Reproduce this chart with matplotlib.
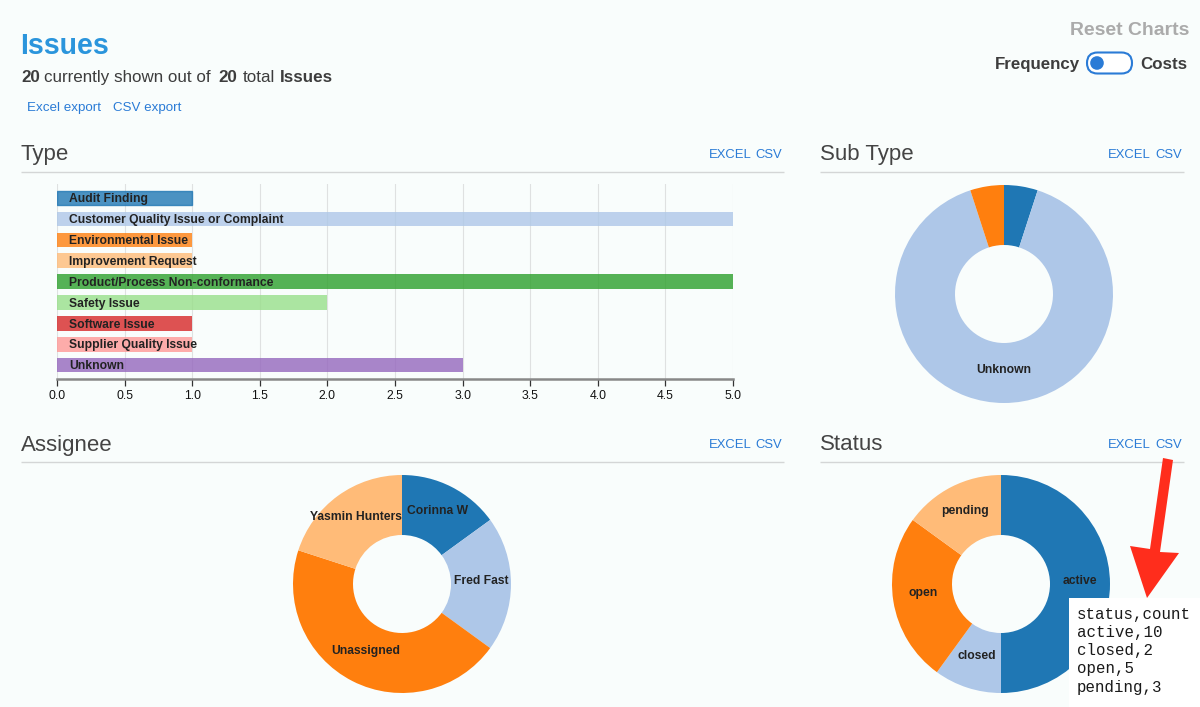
import matplotlib
matplotlib.use("Agg")
import matplotlib.pyplot as plt
from matplotlib.patches import FancyBboxPatch, Circle, Rectangle, Polygon
import numpy as np

W, H = 1200, 707
BG = "#f9fdfc"
PX = 0.72  # px to pt at dpi 100
plt.rcParams['font.family'] = ['Liberation Sans', 'DejaVu Sans']

tab20 = ["#1f77b4", "#aec7e8", "#ff7f0e", "#ffbb78", "#2ca02c", "#98df8a", "#d62728", "#ff9896", "#9467bd"]

type_names = ["Audit Finding", "Customer Quality Issue or Complaint", "Environmental Issue",
              "Improvement Request", "Product/Process Non-conformance", "Safety Issue",
              "Software Issue", "Supplier Quality Issue", "Unknown"]
type_counts = [1, 5, 1, 1, 5, 2, 1, 1, 3]
x_ticks = [0.0, 0.5, 1.0, 1.5, 2.0, 2.5, 3.0, 3.5, 4.0, 4.5, 5.0]

subtype_names = ["", "Unknown", ""]
subtype_counts = [1, 18, 1]

assignee_names = ["Corinna W", "Fred Fast", "Unassigned", "Yasmin Hunters"]
assignee_counts = [3, 4, 9, 4]

status_names = ["active", "closed", "open", "pending"]
status_counts = [10, 2, 5, 3]


def px_axes(fig, x0, y0, x1, y1, z=1):
    ax = fig.add_axes([x0 / W, 1 - y1 / H, (x1 - x0) / W, (y1 - y0) / H], zorder=z)
    return ax


fig = plt.figure(figsize=(W / 100, H / 100), dpi=100, facecolor=BG)

# page level stuff in pixel coords
page = px_axes(fig, 0, 0, W, H, 0)
page.set_xlim(0, W)
page.set_ylim(H, 0)
page.axis("off")

blue = "#2a7bd6"
dark = "#3d3d3d"

page.text(20.5, 53.5, "Issues", fontsize=28.5 * PX, fontweight="bold", color="#2b95dc", va="baseline")
sub = [("20", "bold", 21), ("currently shown out of", "normal", 44.5), ("20", "bold", 218.5),
       ("total", "normal", 243), ("Issues", "bold", 280)]
for txt, wt, x in sub:
    page.text(x, 82, txt, fontsize=17 * PX, fontweight=wt, color=dark, va="baseline")
page.text(27, 111, "Excel export", fontsize=13.4 * PX, color=blue, va="baseline")
page.text(113, 111, "CSV export", fontsize=13.4 * PX, color=blue, va="baseline")

page.text(1189, 35, "Reset Charts", fontsize=19.4 * PX, fontweight="bold", color="#ababab", va="baseline", ha="right")
page.text(1080, 69, "Frequency", fontsize=16.9 * PX, fontweight="bold", color=dark, va="baseline", ha="right")
page.text(1140, 69, "Costs", fontsize=16.9 * PX, fontweight="bold", color=dark, va="baseline")
page.add_patch(FancyBboxPatch((1087, 52.5), 45, 21, boxstyle="round,pad=0,rounding_size=10.5",
                              fc="white", ec=blue, lw=1.5))
page.add_patch(Circle((1097, 63), 6.8, fc=blue, ec="none", zorder=3))

headers = [("Type", 20.5, 160, 21, 784, 172, 709, 755),
           ("Sub Type", 820, 160, 820, 1184, 172, 1108, 1155),
           ("Assignee", 20.5, 450.5, 21, 784, 462, 709, 755),
           ("Status", 820, 450.5, 820, 1184, 462, 1108, 1155)]
for name, tx, ty, lx0, lx1, ly, ex, cx in headers:
    page.text(tx, ty, name, fontsize=22.3 * PX, color="#444444", va="baseline")
    page.plot([lx0, lx1], [ly, ly], color="#d4d6d6", lw=1, solid_capstyle="butt")
    page.text(ex, ty - 2, "EXCEL", fontsize=13 * PX, color=blue, va="baseline")
    page.text(cx, ty - 2, "CSV", fontsize=13 * PX, color=blue, va="baseline")

# bar chart
step = 20.9
bx = px_axes(fig, 57, 184, 733, 379)
bx.patch.set_alpha(0)
bars = bx.barh(range(len(type_names)), type_counts, height=14.6 / step, color=tab20, alpha=0.8, zorder=2)
bars[0].set_edgecolor("#1f77b4")
bars[0].set_linewidth(1)
bx.set_xlim(0, 5)
bx.set_ylim((379 - 198) / step, (184 - 198) / step)
bx.set_xticks(x_ticks)
bx.set_xticklabels([f"{t:.1f}" for t in x_ticks], fontsize=12.3 * PX, color="#111111")
bx.set_yticks([])
bx.grid(axis="x", color="#dfe1e1", lw=0.8, zorder=1)
bx.set_axisbelow(True)
for s in ["top", "left", "right"]:
    bx.spines[s].set_visible(False)
bx.spines["bottom"].set_color("#888888")
bx.spines["bottom"].set_linewidth(1.8)
bx.tick_params(axis="x", length=5, width=0.9, color="#333333", pad=3)
for i, name in enumerate(type_names):
    bx.annotate(name, (0, i), xytext=(8.6, -0.8), textcoords="offset points",
                fontsize=12.1 * PX, fontweight="bold", color="#222222", va="center", zorder=4)


def donut(names, counts, cx, cy, r=109, inner=49):
    ax = px_axes(fig, cx - r - 1, cy - r - 1, cx + r + 1, cy + r + 1)
    ax.patch.set_alpha(0)
    ax.pie(counts, colors=tab20[:len(counts)], radius=r, startangle=90, counterclock=False,
           wedgeprops={"width": r - inner, "linewidth": 0}, frame=False)
    ax.set_xlim(-r - 1, r + 1)
    ax.set_ylim(-r - 1, r + 1)
    ax.axis("off")
    total = sum(counts)
    done = 0
    for name, c in zip(names, counts):
        mid = (done + c / 2) / total * 2 * np.pi
        done += c
        ax.text((r + inner) / 2 * np.sin(mid), (r + inner) / 2 * np.cos(mid), name,
                fontsize=12.1 * PX, fontweight="bold", color="#222222", ha="center", va="baseline")


donut(subtype_names, subtype_counts, 1004, 294)
donut(assignee_names, assignee_counts, 402, 584)
donut(status_names, status_counts, 1001, 584)

# overlay: arrow and csv box pasted on top
over = px_axes(fig, 0, 0, W, H, 5)
over.set_xlim(0, W)
over.set_ylim(H, 0)
over.axis("off")
over.add_patch(Polygon([(1163, 458), (1173, 460), (1160, 552), (1179, 553), (1147, 598),
                        (1130, 546), (1150, 549)], fc="#ff2d1c", ec="none"))
over.add_patch(Rectangle((1069, 598), 131, 109, fc="white", ec="none"))
csv_lines = ["status,count", "active,10", "closed,2", "open,5", "pending,3"]
for i, line in enumerate(csv_lines):
    over.text(1077, 614 + i * 18.3, line, fontsize=15.7 * PX, family="Liberation Mono",
              color="#1a1a1a", va="center")

fig.savefig("out.png", dpi=100, facecolor=BG)
